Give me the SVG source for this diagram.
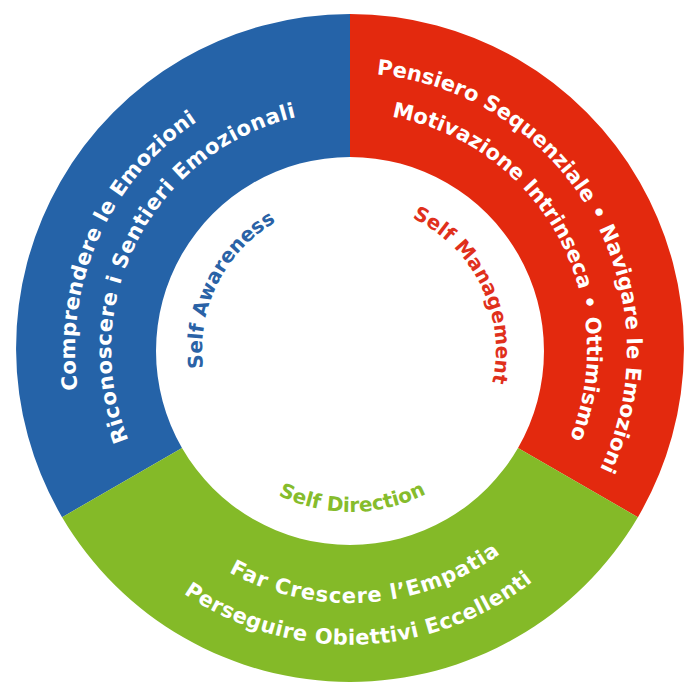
<svg xmlns="http://www.w3.org/2000/svg" xmlns:xlink="http://www.w3.org/1999/xlink" width="685" height="687" viewBox="0 0 685 687">
<style>
.ring{font-family:"DejaVu Sans","Liberation Sans",sans-serif;font-weight:bold;font-size:21px;fill:#ffffff}
.lbl{font-family:"DejaVu Sans","Liberation Sans",sans-serif;font-weight:bold;font-size:20px}
</style>
<defs>
<path id="pBlueOut" d="M196.2,578 A275,275 0 0 1 416.5,83.2"/>
<path id="pBlueIn" d="M204.5,539.6 A239,239 0 0 1 421.9,122.1"/>
<path id="pRedOut" d="M230.8,100 A277,277 0 0 1 502.9,581"/>
<path id="pRedIn" d="M253.6,133.5 A237,237 0 0 1 482.5,546.5"/>
<path id="pGreenIn" d="M104.5,411.2 A253,253 0 0 0 601.6,376.4"/>
<path id="pGreenOut" d="M61.5,411.3 A295,295 0 0 0 642.1,391.1"/>
<path id="pSA" d="M262,469 A148,148 0 0 1 392,208.1"/>
<path id="pSM" d="M309.8,209.7 A146,146 0 0 1 435.8,468.1"/>
<path id="pSD" d="M189.7,382 A165,165 0 0 0 512.8,379"/>
</defs>
<rect width="685" height="687" fill="#ffffff"/>
<g id="self-awareness">
<path d="M350,14 A334,334 0 0 0 62.1,517.2 L182,448 A194,194 0 0 1 350,157 Z" fill="#2563a8"/>
<text class="ring" text-anchor="middle" letter-spacing="0.3"><textPath href="#pBlueOut" xlink:href="#pBlueOut" startOffset="50%">Comprendere le Emozioni</textPath></text>
<text class="ring" text-anchor="middle" letter-spacing="0.6"><textPath href="#pBlueIn" xlink:href="#pBlueIn" startOffset="50%">Riconoscere i Sentieri Emozionali</textPath></text>
<text class="lbl" fill="#2a62a6" text-anchor="middle"><textPath href="#pSA" xlink:href="#pSA" startOffset="50%">Self Awareness</textPath></text>
</g>
<g id="self-management">
<path d="M350,14 A334,334 0 0 1 637.9,517.2 L518,448 A194,194 0 0 0 350,157 Z" fill="#e3290e"/>
<text class="ring" text-anchor="middle"><textPath href="#pRedOut" xlink:href="#pRedOut" startOffset="50%">Pensiero Sequenziale • Navigare le Emozioni</textPath></text>
<text class="ring" text-anchor="middle"><textPath href="#pRedIn" xlink:href="#pRedIn" startOffset="50%">Motivazione Intrinseca • Ottimismo</textPath></text>
<text class="lbl" fill="#e0301c" text-anchor="middle"><textPath href="#pSM" xlink:href="#pSM" startOffset="50%">Self Management</textPath></text>
</g>
<g id="self-direction">
<path d="M62.1,517.2 A334,334 0 0 0 637.9,517.2 L518,448 A194,194 0 0 1 182,448 Z" fill="#84ba28"/>
<text class="ring" text-anchor="middle" letter-spacing="0.9"><textPath href="#pGreenIn" xlink:href="#pGreenIn" startOffset="50%">Far Crescere l’Empatia</textPath></text>
<text class="ring" text-anchor="middle" letter-spacing="0.45"><textPath href="#pGreenOut" xlink:href="#pGreenOut" startOffset="50%">Perseguire Obiettivi Eccellenti</textPath></text>
<text class="lbl" fill="#86bc2c" text-anchor="middle"><textPath href="#pSD" xlink:href="#pSD" startOffset="50%">Self Direction</textPath></text>
</g>
<g id="connectors"/>
</svg>
